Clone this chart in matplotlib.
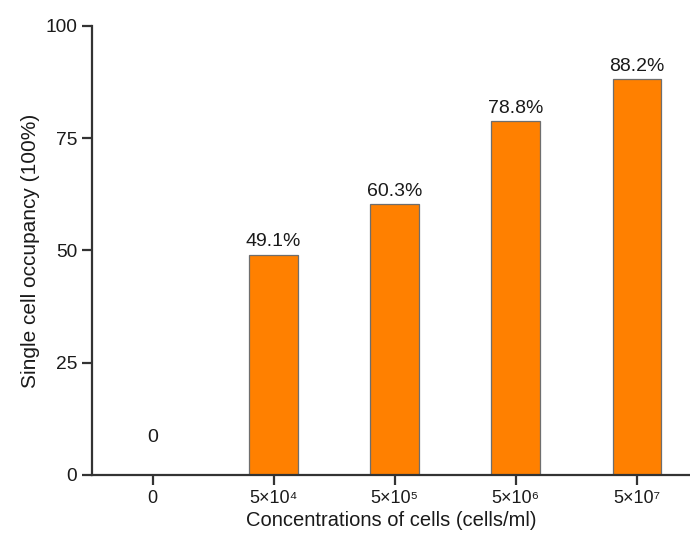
import numpy as np
import matplotlib
matplotlib.use('Agg')
import matplotlib.pyplot as plt

plt.rcParams['font.family'] = ['Liberation Sans', 'DejaVu Sans']

categories = ['0', '5×10⁴', '5×10⁵', '5×10⁶', '5×10⁷']
occupancy = [0, 49.1, 60.3, 78.8, 88.2]
bar_labels = ['0', '49.1%', '60.3%', '78.8%', '88.2%']

fig = plt.figure(figsize=(6.9, 5.41), dpi=100)
ax = fig.add_axes([0.134, 0.122, 0.866, 0.830])

x = np.arange(len(categories))
ax.bar(x, occupancy, width=0.4, color='#FF8000', edgecolor='#6e6e6e', linewidth=0.9, zorder=2)

for xi, v, lab in zip(x, occupancy, bar_labels):
    off = 7.3 if v == 0 else 1.8
    ax.text(xi, v + off, lab, ha='center', va='baseline', fontsize=14, color='#1a1a1a')

ax.set_xlim(-0.496, 4.44)
ax.set_ylim(0, 100)
ax.set_yticks([0, 25, 50, 75, 100])
ax.set_xticks(x)
ax.set_xticklabels(categories)

for s in ['top', 'right']:
    ax.spines[s].set_visible(False)
for s in ['left', 'bottom']:
    ax.spines[s].set_linewidth(1.6)
    ax.spines[s].set_color('#333333')

ax.tick_params(axis='both', direction='out', length=7, width=1.6, color='#333333',
               labelcolor='#1a1a1a')
ax.tick_params(axis='y', labelsize=13.75, pad=4)
ax.tick_params(axis='x', labelsize=13, pad=4)

ax.set_xlabel('Concentrations of cells (cells/ml)', fontsize=14.5, color='#1a1a1a', labelpad=3)
ax.set_ylabel('Single cell occupancy (100%)', fontsize=15, color='#1a1a1a', labelpad=4)

fig.savefig('out.png', dpi=100)
